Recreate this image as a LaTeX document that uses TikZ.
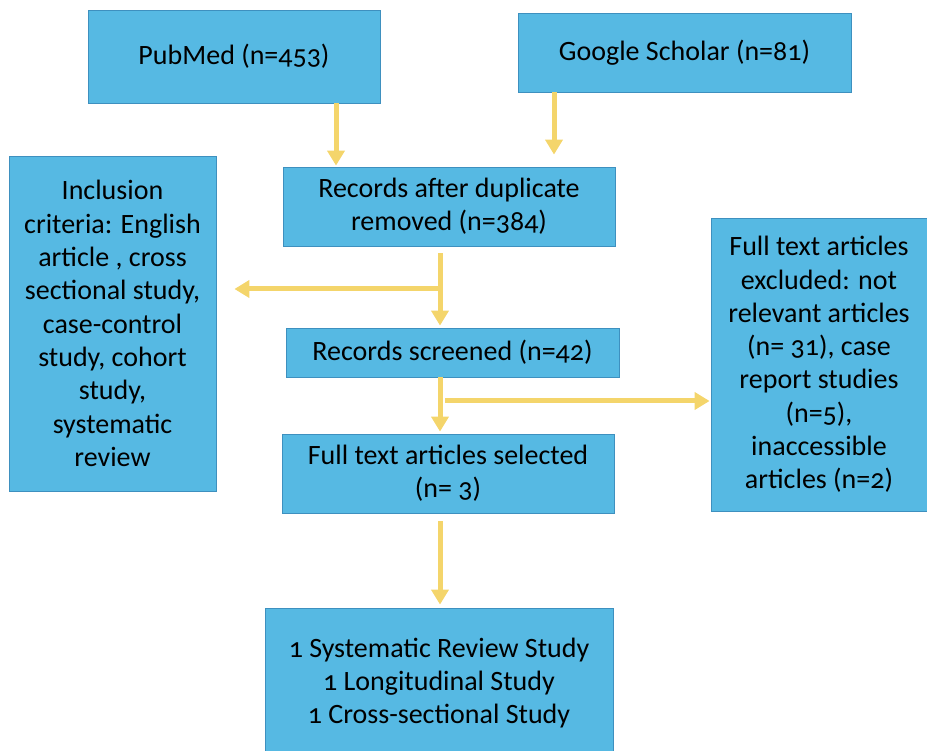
\documentclass[tikz,border=0pt]{standalone}
\usepackage{fontspec}
\setmainfont[Numbers=OldStyle]{Carlito}
\usetikzlibrary{arrows.meta}
\definecolor{boxfill}{HTML}{56B9E3}
\definecolor{boxline}{HTML}{3E90BF}
\definecolor{arrowc}{HTML}{F4D56B}
\begin{document}
\begin{tikzpicture}[x=1pt,y=-1pt,
  box/.style={draw=boxline, line width=0.8pt, fill=boxfill, align=center,
    font=\fontsize{28}{33.3}\selectfont, inner sep=0pt},
  arr/.style={draw=arrowc, line width=5pt, -{Triangle[width=17pt,length=15pt]}}]
\useasboundingbox (0,0) rectangle (927,751);
\node[box, minimum width=292pt, minimum height=93pt] (pub) at (234,56.5) {PubMed (n=453)};
\node[box, minimum width=333pt, minimum height=79pt] (gs) at (684.5,52.5) {Google Scholar (n=81)};
\node[box, minimum width=332pt, minimum height=79pt] (dup) at (449,206.5) {Records after duplicate\\removed (n=384)};
\node[box, minimum width=207pt, minimum height=335pt] (incl) at (112.5,323.5) {Inclusion\\criteria: English\\article , cross\\sectional study,\\case-control\\study, cohort\\study,\\systematic\\review};
\node[box, minimum width=333pt, minimum height=49pt] (scr) at (452.5,352.5) {Records screened (n=42)};
\node[box, minimum width=216pt, minimum height=293pt] (excl) at (819,364.5) {Full text articles\\excluded: not\\relevant articles\\(n= 31), case\\report studies\\(n=5),\\inaccessible\\articles (n=2)};
\node[box, minimum width=332pt, minimum height=79pt] (sel) at (448,473.5) {Full text articles selected\\(n= 3)};
\node[box, minimum width=348pt, minimum height=150pt] (fin) at (439,683) {1 Systematic Review Study\\1 Longitudinal Study\\1 Cross-sectional Study};
\coordinate (xa) at (336,0);
\coordinate (xb) at (554,0);
\coordinate (xc) at (440,0);
\coordinate (bl) at (440,289);
\coordinate (br) at (445,401);
\draw[arr, shorten <=-0.5pt, shorten >=1pt] (pub.south -| xa) -- (dup.north -| xa);
\draw[arr, shorten >=12pt] (gs.south -| xb) -- (dup.north -| xb);
\draw[arr, shorten <=7pt, shorten >=2pt] (dup.south -| xc) -- (scr.north -| xc);
\draw[arr, shorten >=18pt] (bl) -- (incl.east |- bl);
\draw[arr, shorten >=2pt] (scr.south -| xc) -- (sel.north -| xc);
\draw[arr, shorten >=1pt] (br) -- (excl.west |- br);
\draw[arr, shorten <=8pt, shorten >=3pt] (sel.south -| xc) -- (fin.north -| xc);
\end{tikzpicture}
\end{document}
